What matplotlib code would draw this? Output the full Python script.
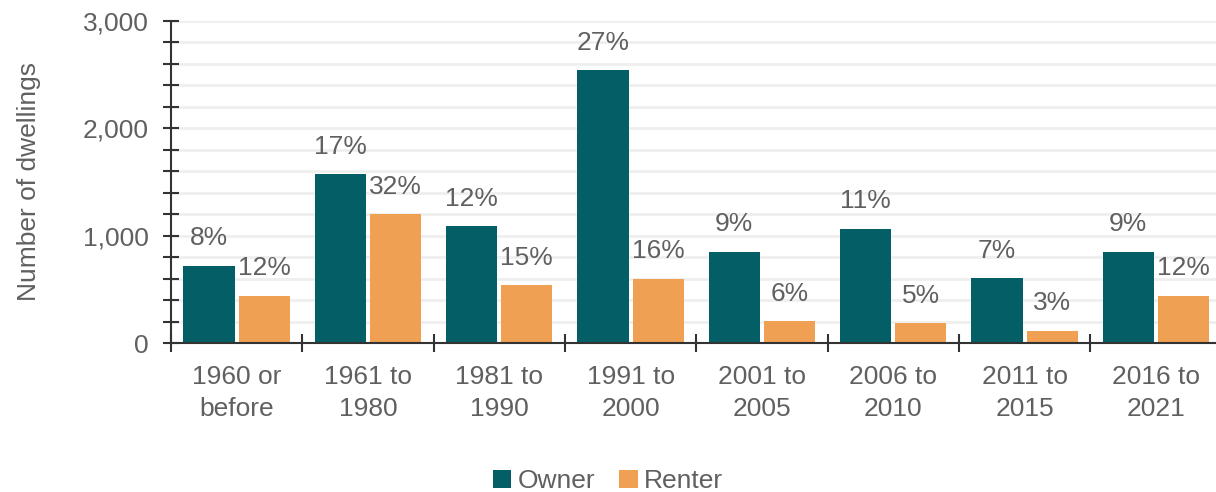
import matplotlib.pyplot as plt
from matplotlib.ticker import MultipleLocator, FuncFormatter

plt.rcParams['font.family'] = ['Liberation Sans', 'DejaVu Sans']

periods = ["1960 or\nbefore", "1961 to\n1980", "1981 to\n1990", "1991 to\n2000",
           "2001 to\n2005", "2006 to\n2010", "2011 to\n2015", "2016 to\n2021"]
owner = [720, 1570, 1090, 2540, 850, 1065, 605, 850]
renter = [440, 1200, 540, 600, 205, 185, 115, 440]
owner_pct = ["8%", "17%", "12%", "27%", "9%", "11%", "7%", "9%"]
renter_pct = ["12%", "32%", "15%", "16%", "6%", "5%", "3%", "12%"]

teal = '#035f65'
orange = '#f0a052'
txt = '#606060'
axc = '#333333'
fs = 19

fig = plt.figure(figsize=(12.16, 4.92), dpi=100)
ax = fig.add_axes([0.1406, 0.3028, 0.864, 0.655])

x = list(range(len(periods)))
w = 0.39
b1 = ax.bar([i - 0.21 for i in x], owner, width=w, color=teal, label='Owner', zorder=3)
b2 = ax.bar([i + 0.21 for i in x], renter, width=w, color=orange, label='Renter', zorder=3)

for bars, labs in ((b1, owner_pct), (b2, renter_pct)):
    for r, lab in zip(bars, labs):
        ax.annotate(lab, (r.get_x() + r.get_width() / 2, r.get_height()),
                    xytext=(0, 11), textcoords='offset points',
                    ha='center', va='bottom', fontsize=fs, color=txt)

ax.set_xlim(-0.5, 7.5)
ax.set_ylim(0, 3000)
ax.yaxis.set_major_locator(MultipleLocator(1000))
ax.yaxis.set_minor_locator(MultipleLocator(200))
ax.yaxis.set_major_formatter(FuncFormatter(lambda v, p: f"{int(v):,}"))
ax.grid(axis='y', which='both', color='#efefef', lw=2, zorder=0)

ax.set_xticks([i - 0.5 for i in range(len(periods) + 1)])
ax.set_xticklabels([])
ax.set_xticks(x, minor=True)
ax.set_xticklabels(periods, minor=True, fontsize=fs, color=txt, linespacing=1.4)
ax.tick_params(axis='x', which='major', direction='inout', length=13, width=1.5, color=axc)
ax.tick_params(axis='x', which='minor', length=0, pad=16)
ax.tick_params(axis='y', which='both', direction='inout', length=12, width=1.5,
               color=axc, labelsize=fs, labelcolor=txt, pad=10)

for s in ('top', 'right'):
    ax.spines[s].set_visible(False)
for s in ('left', 'bottom'):
    ax.spines[s].set_color(axc)
    ax.spines[s].set_linewidth(1.5)
    ax.spines[s].set_zorder(4)

ax.set_ylabel("Number of dwellings", fontsize=fs, color=txt, labelpad=30)

fig.legend(loc='center', bbox_to_anchor=(0.5, 0.022), ncol=2, frameon=False,
           fontsize=fs, labelcolor=txt, handlelength=0.7, handleheight=0.7,
           handletextpad=0.25, columnspacing=0.9)

fig.savefig('out.png', dpi=100)
